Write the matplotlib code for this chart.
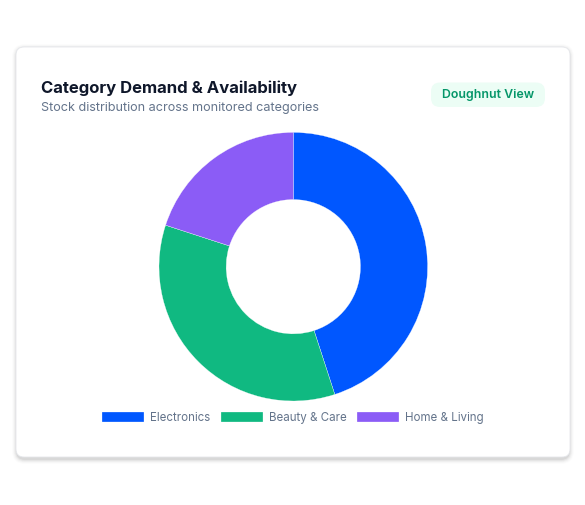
import matplotlib
matplotlib.use("Agg")
import matplotlib.pyplot as plt
from matplotlib.patches import FancyBboxPatch

# data
categories = ["Electronics", "Beauty & Care", "Home & Living"]
stock_share = [45, 35, 20]
slice_colors = ["#0057FF", "#10B981", "#8B5CF6"]

title = "Category Demand & Availability"
subtitle = "Stock distribution across monitored categories"
badge = "Doughnut View"

W, H = 585, 505
fig = plt.figure(figsize=(W / 100, H / 100), dpi=100)
fig.patch.set_facecolor("white")

#-- background axes in pixel coords (y down)
bg = fig.add_axes([0, 0, 1, 1])
bg.set_xlim(0, W)
bg.set_ylim(H, 0)
bg.axis("off")

#-- card shadow, a few soft layers
x0, y0, x1, y1 = 16, 47, 570, 457
for i, a in enumerate([0.05, 0.04, 0.03, 0.02, 0.012]):
    g = i + 1
    sh = FancyBboxPatch((x0 - g + 1, y0 - g + 2), (x1 - x0) + 2 * g - 2, (y1 - y0) + 2 * g,
                        boxstyle="round,pad=0,rounding_size=%d" % (8 + g),
                        fc="black", ec="none", alpha=a, zorder=1)
    bg.add_patch(sh)
card = FancyBboxPatch((x0, y0), x1 - x0, y1 - y0,
                      boxstyle="round,pad=0,rounding_size=8",
                      fc="white", ec="#E5E7EB", lw=0.6, zorder=2)
bg.add_patch(card)

#-- header
bg.text(41, 93, title, fontsize=12.0, fontweight="bold", family="Inter",
        color="#0F172A", ha="left", va="baseline", zorder=3)
bg.text(41, 111.5, subtitle, fontsize=9.1, family="Inter",
        color="#64748B", ha="left", va="baseline", zorder=3)

#-- badge
pill = FancyBboxPatch((431, 82.5), 114, 24.5,
                      boxstyle="round,pad=0,rounding_size=9",
                      fc="#ECFDF5", ec="none", zorder=3)
bg.add_patch(pill)
bg.text(488, 95, badge, fontsize=8.9, fontweight="semibold", family="Inter",
        color="#059669", ha="center", va="center", zorder=4)

#-- doughnut
cx, cy, r = 293.3, 266.7, 134.3
pie_ax = fig.add_axes([(cx - r) / W, (H - cy - r) / H, 2 * r / W, 2 * r / H])
wedges, _ = pie_ax.pie(stock_share, colors=slice_colors, startangle=90,
                       counterclock=False, radius=1,
                       wedgeprops=dict(width=0.5, edgecolor="white", linewidth=0.2))
pie_ax.set_xlim(-1, 1)
pie_ax.set_ylim(-1, 1)
pie_ax.axis("off")

#-- legend
leg = fig.legend(wedges, categories, loc="center", bbox_to_anchor=(292.8 / W, 1 - 418 / H),
                 ncol=3, frameon=False, handlelength=3.65, handleheight=1.04,
                 handletextpad=0.52, columnspacing=0.87,
                 prop=dict(family="Inter", size=8.3))
for t in leg.get_texts():
    t.set_color("#64748B")

fig.savefig("out.png", dpi=100)
